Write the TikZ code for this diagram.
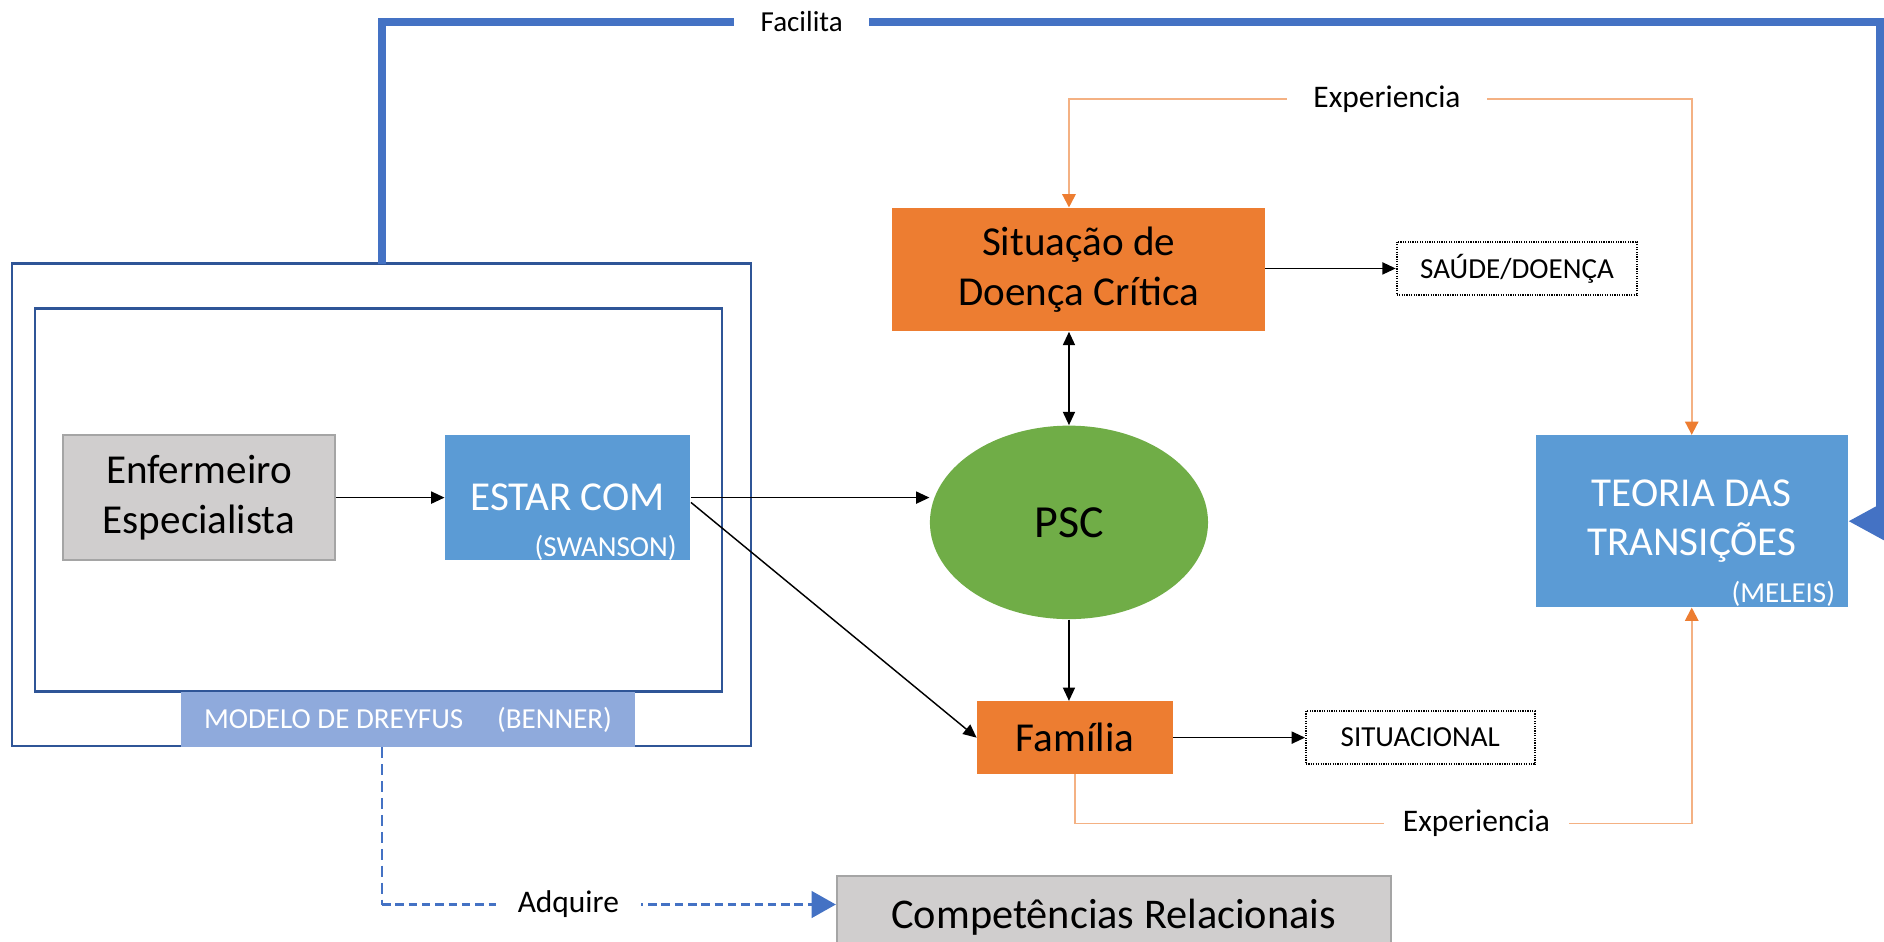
\documentclass[tikz,border=0pt]{standalone}
\usepackage{fontspec}
\setmainfont{Carlito}
\usetikzlibrary{arrows.meta,shapes.geometric,positioning}
\definecolor{fblue}{HTML}{4472C4}
\definecolor{lblue}{HTML}{5B9BD5}
\definecolor{dblue}{HTML}{2F5597}
\definecolor{pblue}{HTML}{8FAADC}
\definecolor{orng}{HTML}{ED7D31}
\definecolor{lorng}{HTML}{F4B183}
\definecolor{grn}{HTML}{70AD47}
\definecolor{gry}{HTML}{D0CECE}
\definecolor{gryb}{HTML}{A5A5A5}
\newcommand{\fs}[2]{\fontsize{#1}{#2}\selectfont}
\tikzset{
  box/.style={rectangle, inner sep=0pt, align=center, text=black},
  graybox/.style={box, fill=gry, draw=gryb, line width=0.8pt},
  bluebox/.style={box, fill=lblue, text=white},
  orngbox/.style={box, fill=orng},
  dotbox/.style={box, draw=black, line width=0.8pt, dash pattern=on 0.5pt off 0.5pt},
  frame/.style={draw=dblue, line width=1pt},
  thin arrow/.style={draw=black, line width=0.6pt, -{Triangle[length=5.5pt,width=5pt]}},
  both arrow/.style={draw=black, line width=0.6pt, {Triangle[length=5.5pt,width=5pt]}-{Triangle[length=5.5pt,width=5pt]}},
  exp line/.style={draw=lorng, line width=0.8pt},
  exp tip/.style={-{Triangle[length=5.5pt,width=5.5pt,color=orng]}},
  lbl/.style={fill=white, inner ysep=1pt, text=black},
}
\begin{document}
\begin{tikzpicture}[x=0.5pt,y=-0.5pt]
\useasboundingbox (0,0) rectangle (1558,779);
\clip (0,0) rectangle (1558,779);

% frames
\draw[frame] (10,218) rectangle (621,617);
\draw[frame] (29,255) rectangle (597,572);
\node[box, fill=pblue, text=white, minimum width=187.5pt, minimum height=22.5pt, font=\fs{12}{14}] (dlab) at (337.5,595)
  {MODELO DE DREYFUS\hspace{14pt}(BENNER)};

% nodes
\node[graybox, minimum width=112.5pt, minimum height=51.5pt, font=\fs{17}{20.5}] (enf) at (164.5,411.5) {Enfermeiro\\Especialista};
\node[bluebox, minimum width=101.5pt, minimum height=51.5pt, font=\fs{17}{20.5}] (estar) at (469.5,411.5) {ESTAR COM};
\node[text=white, font=\fs{12}{14}, inner sep=0pt, anchor=east] (swan) at (560,453) {(SWANSON)};

\node[orngbox, minimum width=154pt, minimum height=51pt, font=\fs{17}{20.5}] (sit) at (892,223) {Situação de\\Doença Crítica};
\node[dotbox, minimum width=99.5pt, minimum height=22pt, font=\fs{12}{14}] (saude) at (1254.5,222) {SAÚDE/DOENÇA};

\node[ellipse, fill=grn, inner sep=0pt, minimum width=115pt, minimum height=80pt, font=\fs{19}{23}] (psc) at (884,432) {PSC};

\node[orngbox, minimum width=81pt, minimum height=30pt, font=\fs{17}{20.5}] (fam) at (889,610) {Família};
\node[dotbox, minimum width=94.5pt, minimum height=22pt, font=\fs{12}{14}] (situ) at (1174.5,610) {SITUACIONAL};

\node[bluebox, minimum width=129pt, minimum height=71pt, font=\fs{17}{20.5}] (teoria) at (1399,431) {TEORIA DAS\\TRANSIÇÕES};
\node[text=white, font=\fs{12}{14}, inner sep=0pt, anchor=east] (mel) at (1518,491) {(MELEIS)};

\node[graybox, minimum width=229pt, minimum height=34pt, anchor=north, font=\fs{17.5}{21}] (comp) at (921,724) {Competências Relacionais};

% black arrows
\draw[thin arrow] (enf.east) -- (estar.west);
\draw[thin arrow] (estar.east) -- (estar.east -| psc.west);
\draw[thin arrow] ([yshift=-2pt]estar.east) -- (fam.west);
\draw[both arrow] (sit.south -| psc.north) -- (psc.north);
\draw[thin arrow] (psc.south) -- (psc.south |- fam.north);
\draw[thin arrow] (sit.east |- saude.west) -- (saude.west);
\draw[thin arrow] (fam.east) -- (situ.west);

% Experiencia top
\coordinate (e1) at (1147,82);
\draw[exp line, exp tip] (e1) -- (e1 -| psc.north) -- (sit.north -| psc.north);
\draw[exp line, exp tip] (e1) -- (e1 -| teoria.north) -- (teoria.north);
\node[lbl, inner xsep=11pt, font=\fs{13}{16}] (exp1) at (e1) {Experiencia};

% Experiencia bottom
\coordinate (e2) at (1221,681);
\draw[exp line, exp tip] (fam.south) -- (fam.south |- e2) -- (e2 -| teoria.south) -- (teoria.south);
\node[lbl, inner xsep=8pt, font=\fs{13}{16}] (exp2) at (e2) {Experiencia};

% Facilita
\coordinate (fs) at (316,218);
\coordinate (f1) at (663,18);
\coordinate (fr) at (1555,18);
\draw[draw=fblue, line width=3.5pt, -{Triangle[length=15pt,width=15pt]}] (fs) -- (fs |- f1) -- (fr) -- (fr |- teoria.east) -- (teoria.east);
\node[lbl, inner xsep=11pt, font=\fs{12}{14}] (fac) at (f1) {Facilita};

% Adquire
\coordinate (ad) at (470,748);
\draw[draw=fblue, line width=1pt, dash pattern=on 4.5pt off 2.5pt] (dlab.south -| fs) -- (fs |- ad);
\draw[draw=fblue, line width=1pt, dash pattern=on 3.5pt off 2pt, -{Triangle[length=10pt,width=11pt,fill=fblue]}] (fs |- ad) -- (ad -| comp.west);
\node[lbl, inner xsep=9pt, font=\fs{13}{16}] (adq) at (ad) {Adquire};
\end{tikzpicture}
\end{document}
